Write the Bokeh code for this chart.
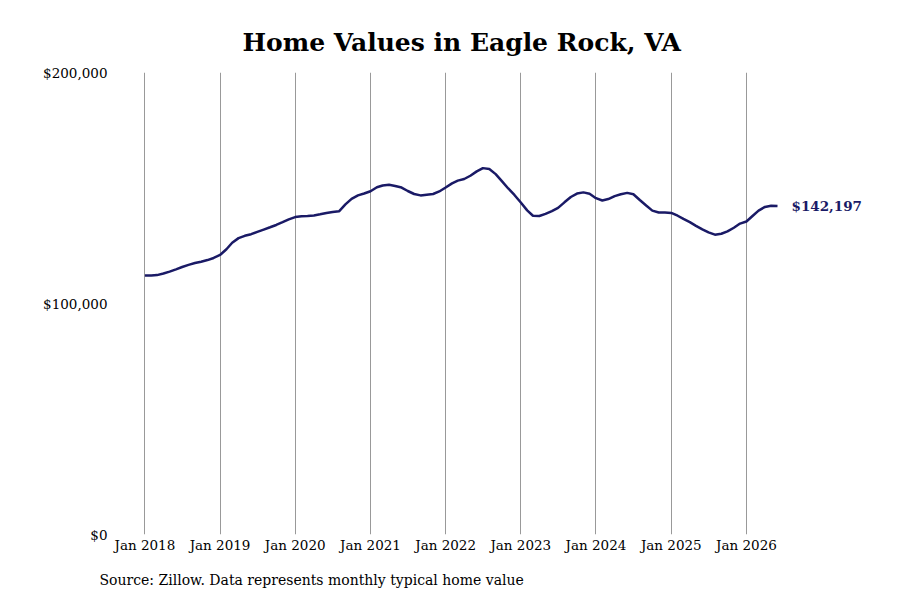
import pandas as pd
from bokeh.plotting import figure
from bokeh.models import Range1d, FixedTicker, DatetimeTickFormatter, NumeralTickFormatter, Label, Title
from bokeh.embed import file_html
from bokeh.resources import INLINE

title_text = "Home Values in Eagle Rock, VA"
source_text = "Source: Zillow. Data represents monthly typical home value"
start_month = "2018-01-01"
tick_years = [2018, 2019, 2020, 2021, 2022, 2023, 2024, 2025, 2026]
values = [
    112100, 112100, 112300, 113000, 113800, 114800, 115800, 116700, 117500, 118100, 118800, 119700,
    121000, 123500, 126300, 128300, 129300, 130000, 131000, 132000, 133000, 134000, 135200, 136400,
    137400, 137800, 137900, 138100, 138600, 139200, 139600, 139900, 142900, 145300, 146800, 147600,
    148600, 150300, 151100, 151400, 150900, 150200, 148700, 147400, 146800, 147100, 147400, 148500,
    150200, 152000, 153200, 153900, 155300, 157200, 158600, 158200, 156000, 153000, 149800, 147000,
    143700, 140300, 138000, 137900, 138800, 140000, 141400, 143800, 146100, 147600, 148100, 147500,
    145600, 144600, 145200, 146500, 147300, 147900, 147300, 144800, 142400, 140200, 139400, 139400,
    139200, 138000, 136600, 135200, 133600, 132100, 130800, 129800, 130200, 131200, 132800, 134600,
    135500, 138000, 140200, 141800, 142300, 142197,
]
end_label = "$142,197"

dates = pd.date_range(start_month, periods=len(values), freq="MS")

LINE = "#1a1a66"
FONT = "DejaVu Serif"

t0 = pd.Timestamp("2018-01-01")
yr = pd.Timedelta(days=365.25)
x_start = t0 - yr * (29.4 / 75.19)
x_end = t0 + yr * ((760 - 29.4) / 75.19)

p = figure(width=900, height=604, x_axis_type="datetime",
           x_range=Range1d(x_start, x_end), y_range=Range1d(0, 200000),
           output_backend="svg", toolbar_location=None,
           min_border_left=115, min_border_right=25, min_border_top=72, min_border_bottom=70)
p.outline_line_color = None
p.background_fill_color = "white"
p.border_fill_color = "white"

p.title.text = title_text
p.title.text_font = FONT
p.title.text_font_size = "25px"
p.title.text_font_style = "bold"
p.title.align = "left"
p.title.offset = 127
p.title.standoff = 32
p.title.text_color = "black"

p.line(dates, values, line_color=LINE, line_width=2.5)

lab = Label(x=dates[-1], y=values[-1], text=end_label, x_offset=14, text_baseline="middle",
            text_font=FONT, text_font_size="13.5px", text_font_style="bold", text_color=LINE)
p.add_layout(lab)

ticks = [pd.Timestamp(f"{y}-01-01").value / 1e6 for y in tick_years]
p.xaxis.ticker = FixedTicker(ticks=ticks)
p.xaxis.formatter = DatetimeTickFormatter(days="%b %Y", months="%b %Y", years="%b %Y")
p.xaxis.axis_line_color = None
p.xaxis.major_tick_line_color = None
p.xaxis.minor_tick_line_color = None
p.xaxis.major_tick_out = 0
p.xaxis.minor_tick_out = 0
p.xaxis.major_label_standoff = 2
p.xaxis.major_label_text_font = FONT
p.xaxis.major_label_text_font_size = "13.5px"
p.xaxis.major_label_text_color = "black"

p.yaxis.ticker = FixedTicker(ticks=[0, 100000, 200000])
p.yaxis.formatter = NumeralTickFormatter(format="$0,0")
p.yaxis.axis_line_color = None
p.yaxis.major_tick_line_color = None
p.yaxis.minor_tick_line_color = None
p.yaxis.major_tick_out = 0
p.yaxis.minor_tick_out = 0
p.yaxis.major_label_standoff = 8
p.yaxis.major_label_text_font = FONT
p.yaxis.major_label_text_font_size = "13.5px"
p.yaxis.major_label_text_color = "black"

p.xgrid.grid_line_color = "#999999"
p.xgrid.grid_line_width = 1
p.ygrid.grid_line_color = None

src = Title(text=source_text, align="left", offset=-16, standoff=29,
            text_font=FONT, text_font_size="14px", text_font_style="normal", text_color="black")
p.add_layout(src, "below")

open("out.html", "w").write(file_html(p, INLINE))
